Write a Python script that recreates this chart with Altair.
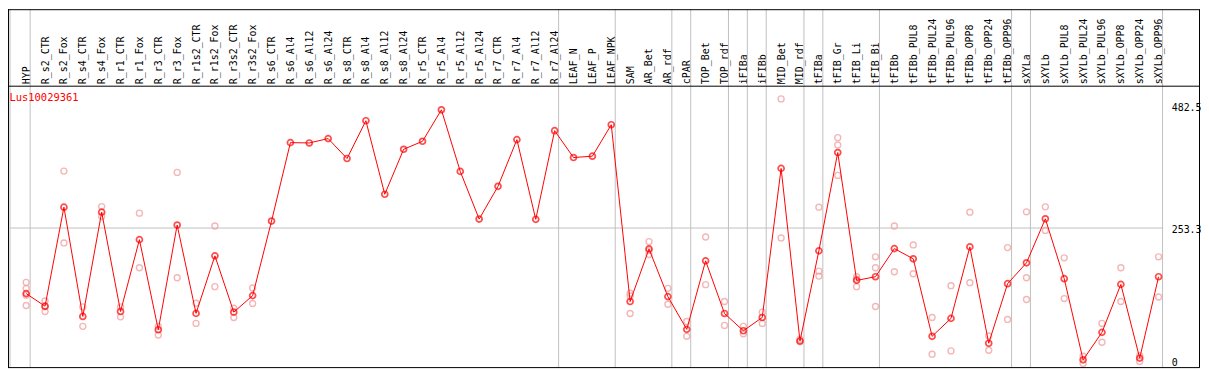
import altair as alt
import pandas as pd

gene = "Lus10029361"

groups = [
    ["HYP"],
    ["R_s2_CTR", "R_s2_Fox", "R_s4_CTR", "R_s4_Fox", "R_r1_CTR", "R_r1_Fox",
     "R_r3_CTR", "R_r3_Fox", "R_r1s2_CTR", "R_r1s2_Fox", "R_r3s2_CTR", "R_r3s2_Fox",
     "R_s6_CTR", "R_s6_Al4", "R_s6_Al12", "R_s6_Al24", "R_s8_CTR", "R_s8_Al4",
     "R_s8_Al12", "R_s8_Al24", "R_r5_CTR", "R_r5_Al4", "R_r5_Al12", "R_r5_Al24",
     "R_r7_CTR", "R_r7_Al4", "R_r7_Al12", "R_r7_Al24"],
    ["LEAF_N", "LEAF_P", "LEAF_NPK"],
    ["SAM", "AR_Bet", "AR_rdf"],
    ["cPAR"],
    ["TOP_Bet", "TOP_rdf"],
    ["iFIBa"],
    ["iFIBb"],
    ["MID_Bet", "MID_rdf"],
    ["tFIBa"],
    ["tFIB_Gr", "tFIB_Li", "tFIB_Bi"],
    ["tFIBb", "tFIBb_PUL8", "tFIBb_PUL24", "tFIBb_PUL96", "tFIBb_OPP8",
     "tFIBb_OPP24", "tFIBb_OPP96"],
    ["sXYLa"],
    ["sXYLb", "sXYLb_PUL8", "sXYLb_PUL24", "sXYLb_PUL96", "sXYLb_OPP8",
     "sXYLb_OPP24", "sXYLb_OPP96"],
]
names = [n for g in groups for n in g]

mean_vals = [
    131.0, 107.5, 292.2, 88.4, 282.9, 97.6, 231.6, 63.6, 258.9, 94.1,
    201.4, 96.4, 127.3, 266.3, 412.6, 412.0, 420.1, 383.0, 453.4, 316.3,
    400.2, 415.1, 473.8, 358.9, 270.0, 331.1, 418.2, 269.5, 434.9, 384.8,
    387.3, 446.0, 116.2, 214.4, 125.4, 64.3, 192.1, 93.9, 61.7, 86.5,
    364.5, 42.6, 210.7, 394.1, 155.6, 162.5, 214.9, 195.9, 51.3, 84.7,
    218.1, 38.4, 149.5, 188.4, 270.5, 158.8, 7.4, 58.7, 148.2, 10.6,
    162.5,
]

replicates = [
    [151.9, 140.3, 127.9, 108.8],
    [117.3, 106.5, 97.6],
    [359.5, 225.5],
    [106.2, 69.9],
    [293.3, 274.8],
    [106.2, 87.6],
    [281.1, 179.2],
    [69.9, 53.7],
    [357.1, 160.6],
    [113.0, 75.4],
    [257.0, 144.0],
    [103.8, 86.5],
    [141.4, 112.5],
    [], [], [], [], [], [], [], [], [], [], [], [], [], [], [], [], [], [], [],
    [131.6, 126.6, 93.9],
    [227.9, 211.2, 203.8],
    [140.8, 111.2],
    [79.1, 51.3],
    [236.6, 147.7],
    [116.2, 71.7],
    [69.9, 56.1],
    [96.4, 75.4],
    [494.2, 234.8],
    [45.8, 41.3],
    [292.2, 172.9, 163.6],
    [421.9, 408.2, 351.5],
    [162.5, 158.1, 144.0],
    [199.6, 179.2, 106.9],
    [257.0, 171.8],
    [221.8, 168.1],
    [86.5, 18.0],
    [145.8, 24.1],
    [282.9, 151.4],
    [51.9, 25.4],
    [216.8, 82.8],
    [283.5, 160.6, 119.9],
    [292.8, 248.8],
    [197.7, 121.7],
    [14.3, 0.5],
    [75.4, 40.2],
    [179.2, 116.2],
    [15.4, 4.3],
    [199.6, 124.7],
]

y_ticks = [0, 253.3, 482.5]

# ---- tables built from the lists ----
means_df = pd.DataFrame({"idx": list(range(len(names))), "name": names, "value": mean_vals})
reps_rows = [{"idx": i, "name": names[i], "value": v}
             for i, reps in enumerate(replicates) for v in reps]
reps_df = pd.DataFrame(reps_rows)

X_DOMAIN = [-0.858, 60.247]
Y_DOMAIN = [-7.41, 518.8]
SEP_SHIFT = 0.21

ends = []
c = 0
for g in groups:
    c += len(g)
    ends.append(c - 1 + SEP_SHIFT)
sep_df = pd.DataFrame({"idx": [X_DOMAIN[0]] + ends})
grid_df = pd.DataFrame({"value": [y_ticks[1]]})
one_df = pd.DataFrame({"t": [gene]})

FONT = "DejaVu Sans Mono"
RED = "#ff0000"
PINK = "#f09a9a"
GRAY = "#c0c0c0"

label_expr = "[" + ",".join("'" + n + "'" for n in names) + "][datum.value]"

x_scale = alt.Scale(domain=X_DOMAIN, nice=False, zero=False)
y_scale = alt.Scale(domain=Y_DOMAIN, nice=False, zero=False)

x_axis = alt.Axis(
    orient="top", values=list(range(len(names))), labelExpr=label_expr,
    labelAngle=270, labelAlign="left", labelBaseline="middle",
    labelPadding=2, labelFont=FONT, labelFontSize=10, labelColor="black",
    labelOverlap=False, labelBound=False, labelFlush=False,
    grid=False, domain=False, ticks=False, tickSize=0, title=None,
)
y_axis = alt.Axis(
    orient="right", values=y_ticks,
    labelExpr="datum.value == 0 ? '0' : format(datum.value, '.1f')",
    labelFont=FONT, labelFontSize=10, labelColor="black",
    labelAlign="left",
    labelBaseline={"condition": {"test": "datum.value == 0", "value": "alphabetic"}, "value": "middle"},
    labelOffset=2, labelPadding=8, labelOverlap=False, labelBound=False,
    labelFlush=False, grid=False, domain=False, ticks=False, tickSize=0,
    title=None,
)

x_enc = alt.X("idx:Q", scale=x_scale, axis=x_axis)
y_enc = alt.Y("value:Q", scale=y_scale, axis=y_axis)

line = alt.Chart(means_df).mark_line(color=RED, strokeWidth=1).encode(
    x=x_enc, y=y_enc)

hgrid = alt.Chart(grid_df).mark_rule(color=GRAY, strokeWidth=1).encode(
    y=y_enc, x=alt.value(0), x2=alt.value(1161),
)

seps = alt.Chart(sep_df).mark_rule(color=GRAY, strokeWidth=1).encode(
    x=x_enc, y=alt.value(-77), y2=alt.value(284),
)

top_line = alt.Chart(one_df).mark_rule(color="black", strokeWidth=1).encode(
    x=alt.value(-2), x2=alt.value(1197.5), y=alt.value(0.5))
frame_top = alt.Chart(one_df).mark_rule(color="black", strokeWidth=1).encode(
    x=alt.value(-2), x2=alt.value(1197.5), y=alt.value(-76.5))
frame_bottom = alt.Chart(one_df).mark_rule(color="black", strokeWidth=1).encode(
    x=alt.value(-2), x2=alt.value(1197.5), y=alt.value(283.8))
frame_left = alt.Chart(one_df).mark_rule(color="black", strokeWidth=1).encode(
    x=alt.value(-1.5), y=alt.value(-77), y2=alt.value(284))
frame_right = alt.Chart(one_df).mark_rule(color="black", strokeWidth=1).encode(
    x=alt.value(1197.5), y=alt.value(-77), y2=alt.value(284))

reps = alt.Chart(reps_df).mark_point(
    shape="circle", filled=False, color=PINK, size=36, strokeWidth=1.4
).encode(x=x_enc, y=y_enc)

pts = alt.Chart(means_df).mark_point(
    shape="circle", filled=False, color=RED, size=36, strokeWidth=1.7
).encode(x=x_enc, y=y_enc)

title = alt.Chart(one_df).mark_text(
    color=RED, font=FONT, fontSize=10.5, align="left", baseline="middle"
).encode(text="t:N", x=alt.value(-0.5), y=alt.value(12))

chart = alt.layer(
    hgrid, seps, reps, line, pts, title,
    top_line, frame_top, frame_bottom, frame_left, frame_right,
).properties(
    width=1161, height=284,
    autosize=alt.AutoSizeParams(type="none"),
    padding={"left": 2, "top": 77, "right": 38, "bottom": 1},
    background="white",
).configure_view(stroke=None)

chart.save("out.html", embed_options={"renderer": "svg", "actions": False})
